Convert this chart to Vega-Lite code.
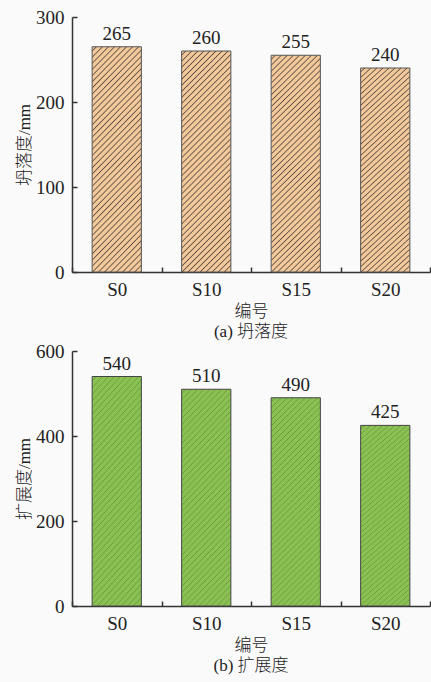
{
  "$schema": "https://vega.github.io/schema/vega-lite/v6.json",
  "background": "#fafafa",
  "padding": {"left": 15, "top": 8, "right": 1, "bottom": 8},
  "spacing": 2,
  "config": {
    "view": {"stroke": null},
    "axis": {
      "grid": false,
      "domainColor": "#333333",
      "domainWidth": 1.5,
      "tickColor": "#333333",
      "tickWidth": 1.5,
      "labelFont": "Liberation Serif",
      "labelFontSize": 19,
      "labelColor": "#222222",
      "titleFont": "Liberation Serif, Noto Sans CJK SC",
      "titleFontSize": 17,
      "titleFontWeight": 300,
      "titleColor": "#222222"
    },
    "title": {"font": "Liberation Serif, Noto Sans CJK SC", "fontSize": 17, "fontWeight": 300, "color": "#222222"}
  },
  "datasets": {
    "slump": [
      {"sample": "S0", "value": 265},
      {"sample": "S10", "value": 260},
      {"sample": "S15", "value": 255},
      {"sample": "S20", "value": 240}
    ],
    "spread": [
      {"sample": "S0", "value": 540},
      {"sample": "S10", "value": 510},
      {"sample": "S15", "value": 490},
      {"sample": "S20", "value": 425}
    ]
  },
  "vconcat": [
    {
      "width": 358,
      "height": 255,
      "title": {"text": "(a) 坍落度", "orient": "bottom", "anchor": "middle", "frame": "group", "offset": 5},
      "data": {"name": "slump"},
      "encoding": {
        "x": {
          "field": "sample", "type": "nominal", "sort": null,
          "scale": {"paddingInner": 0, "paddingOuter": 0},
          "axis": {"title": "编号", "labelAngle": 0, "tickBand": "extent", "tickSize": -5, "labelPadding": 13, "titlePadding": 4}
        },
        "y": {
          "field": "value", "type": "quantitative",
          "scale": {"domain": [0, 300], "nice": false},
          "axis": {"title": "坍落度/mm", "values": [0, 100, 200, 300], "tickSize": -5, "labelPadding": 13, "titlePadding": 2}
        }
      },
      "layer": [
        {
          "mark": {
            "type": "bar",
            "width": {"band": 0.55},
            "stroke": "#555555",
            "strokeWidth": 1,
            "fill": {
              "gradient": "linear", "x1": 0, "y1": 0, "x2": 0.2896, "y2": 1.3,
              "stops": [
                {"offset": 0, "color": "#f3c99b"}, {"offset": 0.01, "color": "#f3c99b"}, {"offset": 0.014, "color": "#5f5046"}, {"offset": 0.018, "color": "#f3c99b"},
                {"offset": 0.02, "color": "#f3c99b"}, {"offset": 0.03, "color": "#f3c99b"}, {"offset": 0.034, "color": "#5f5046"}, {"offset": 0.038, "color": "#f3c99b"},
                {"offset": 0.04, "color": "#f3c99b"}, {"offset": 0.05, "color": "#f3c99b"}, {"offset": 0.054, "color": "#5f5046"}, {"offset": 0.058, "color": "#f3c99b"},
                {"offset": 0.06, "color": "#f3c99b"}, {"offset": 0.07, "color": "#f3c99b"}, {"offset": 0.074, "color": "#5f5046"}, {"offset": 0.078, "color": "#f3c99b"},
                {"offset": 0.08, "color": "#f3c99b"}, {"offset": 0.09, "color": "#f3c99b"}, {"offset": 0.094, "color": "#5f5046"}, {"offset": 0.098, "color": "#f3c99b"},
                {"offset": 0.1, "color": "#f3c99b"}, {"offset": 0.11, "color": "#f3c99b"}, {"offset": 0.114, "color": "#5f5046"}, {"offset": 0.118, "color": "#f3c99b"},
                {"offset": 0.12, "color": "#f3c99b"}, {"offset": 0.13, "color": "#f3c99b"}, {"offset": 0.134, "color": "#5f5046"}, {"offset": 0.138, "color": "#f3c99b"},
                {"offset": 0.14, "color": "#f3c99b"}, {"offset": 0.15, "color": "#f3c99b"}, {"offset": 0.154, "color": "#5f5046"}, {"offset": 0.158, "color": "#f3c99b"},
                {"offset": 0.16, "color": "#f3c99b"}, {"offset": 0.17, "color": "#f3c99b"}, {"offset": 0.174, "color": "#5f5046"}, {"offset": 0.178, "color": "#f3c99b"},
                {"offset": 0.18, "color": "#f3c99b"}, {"offset": 0.19, "color": "#f3c99b"}, {"offset": 0.194, "color": "#5f5046"}, {"offset": 0.198, "color": "#f3c99b"},
                {"offset": 0.2, "color": "#f3c99b"}, {"offset": 0.21, "color": "#f3c99b"}, {"offset": 0.214, "color": "#5f5046"}, {"offset": 0.218, "color": "#f3c99b"},
                {"offset": 0.22, "color": "#f3c99b"}, {"offset": 0.23, "color": "#f3c99b"}, {"offset": 0.234, "color": "#5f5046"}, {"offset": 0.238, "color": "#f3c99b"},
                {"offset": 0.24, "color": "#f3c99b"}, {"offset": 0.25, "color": "#f3c99b"}, {"offset": 0.254, "color": "#5f5046"}, {"offset": 0.258, "color": "#f3c99b"},
                {"offset": 0.26, "color": "#f3c99b"}, {"offset": 0.27, "color": "#f3c99b"}, {"offset": 0.274, "color": "#5f5046"}, {"offset": 0.278, "color": "#f3c99b"},
                {"offset": 0.28, "color": "#f3c99b"}, {"offset": 0.29, "color": "#f3c99b"}, {"offset": 0.294, "color": "#5f5046"}, {"offset": 0.298, "color": "#f3c99b"},
                {"offset": 0.3, "color": "#f3c99b"}, {"offset": 0.31, "color": "#f3c99b"}, {"offset": 0.314, "color": "#5f5046"}, {"offset": 0.318, "color": "#f3c99b"},
                {"offset": 0.32, "color": "#f3c99b"}, {"offset": 0.33, "color": "#f3c99b"}, {"offset": 0.334, "color": "#5f5046"}, {"offset": 0.338, "color": "#f3c99b"},
                {"offset": 0.34, "color": "#f3c99b"}, {"offset": 0.35, "color": "#f3c99b"}, {"offset": 0.354, "color": "#5f5046"}, {"offset": 0.358, "color": "#f3c99b"},
                {"offset": 0.36, "color": "#f3c99b"}, {"offset": 0.37, "color": "#f3c99b"}, {"offset": 0.374, "color": "#5f5046"}, {"offset": 0.378, "color": "#f3c99b"},
                {"offset": 0.38, "color": "#f3c99b"}, {"offset": 0.39, "color": "#f3c99b"}, {"offset": 0.394, "color": "#5f5046"}, {"offset": 0.398, "color": "#f3c99b"},
                {"offset": 0.4, "color": "#f3c99b"}, {"offset": 0.41, "color": "#f3c99b"}, {"offset": 0.414, "color": "#5f5046"}, {"offset": 0.418, "color": "#f3c99b"},
                {"offset": 0.42, "color": "#f3c99b"}, {"offset": 0.43, "color": "#f3c99b"}, {"offset": 0.434, "color": "#5f5046"}, {"offset": 0.438, "color": "#f3c99b"},
                {"offset": 0.44, "color": "#f3c99b"}, {"offset": 0.45, "color": "#f3c99b"}, {"offset": 0.454, "color": "#5f5046"}, {"offset": 0.458, "color": "#f3c99b"},
                {"offset": 0.46, "color": "#f3c99b"}, {"offset": 0.47, "color": "#f3c99b"}, {"offset": 0.474, "color": "#5f5046"}, {"offset": 0.478, "color": "#f3c99b"},
                {"offset": 0.48, "color": "#f3c99b"}, {"offset": 0.49, "color": "#f3c99b"}, {"offset": 0.494, "color": "#5f5046"}, {"offset": 0.498, "color": "#f3c99b"},
                {"offset": 0.5, "color": "#f3c99b"}, {"offset": 0.51, "color": "#f3c99b"}, {"offset": 0.514, "color": "#5f5046"}, {"offset": 0.518, "color": "#f3c99b"},
                {"offset": 0.52, "color": "#f3c99b"}, {"offset": 0.53, "color": "#f3c99b"}, {"offset": 0.534, "color": "#5f5046"}, {"offset": 0.538, "color": "#f3c99b"},
                {"offset": 0.54, "color": "#f3c99b"}, {"offset": 0.55, "color": "#f3c99b"}, {"offset": 0.554, "color": "#5f5046"}, {"offset": 0.558, "color": "#f3c99b"},
                {"offset": 0.56, "color": "#f3c99b"}, {"offset": 0.57, "color": "#f3c99b"}, {"offset": 0.574, "color": "#5f5046"}, {"offset": 0.578, "color": "#f3c99b"},
                {"offset": 0.58, "color": "#f3c99b"}, {"offset": 0.59, "color": "#f3c99b"}, {"offset": 0.594, "color": "#5f5046"}, {"offset": 0.598, "color": "#f3c99b"},
                {"offset": 0.6, "color": "#f3c99b"}, {"offset": 0.61, "color": "#f3c99b"}, {"offset": 0.614, "color": "#5f5046"}, {"offset": 0.618, "color": "#f3c99b"},
                {"offset": 0.62, "color": "#f3c99b"}, {"offset": 0.63, "color": "#f3c99b"}, {"offset": 0.634, "color": "#5f5046"}, {"offset": 0.638, "color": "#f3c99b"},
                {"offset": 0.64, "color": "#f3c99b"}, {"offset": 0.65, "color": "#f3c99b"}, {"offset": 0.654, "color": "#5f5046"}, {"offset": 0.658, "color": "#f3c99b"},
                {"offset": 0.66, "color": "#f3c99b"}, {"offset": 0.67, "color": "#f3c99b"}, {"offset": 0.674, "color": "#5f5046"}, {"offset": 0.678, "color": "#f3c99b"},
                {"offset": 0.68, "color": "#f3c99b"}, {"offset": 0.69, "color": "#f3c99b"}, {"offset": 0.694, "color": "#5f5046"}, {"offset": 0.698, "color": "#f3c99b"},
                {"offset": 0.7, "color": "#f3c99b"}, {"offset": 0.71, "color": "#f3c99b"}, {"offset": 0.714, "color": "#5f5046"}, {"offset": 0.718, "color": "#f3c99b"},
                {"offset": 0.72, "color": "#f3c99b"}, {"offset": 0.73, "color": "#f3c99b"}, {"offset": 0.734, "color": "#5f5046"}, {"offset": 0.738, "color": "#f3c99b"},
                {"offset": 0.74, "color": "#f3c99b"}, {"offset": 0.75, "color": "#f3c99b"}, {"offset": 0.754, "color": "#5f5046"}, {"offset": 0.758, "color": "#f3c99b"},
                {"offset": 0.76, "color": "#f3c99b"}, {"offset": 0.77, "color": "#f3c99b"}, {"offset": 0.774, "color": "#5f5046"}, {"offset": 0.778, "color": "#f3c99b"},
                {"offset": 0.78, "color": "#f3c99b"}, {"offset": 0.79, "color": "#f3c99b"}, {"offset": 0.794, "color": "#5f5046"}, {"offset": 0.798, "color": "#f3c99b"},
                {"offset": 0.8, "color": "#f3c99b"}, {"offset": 0.81, "color": "#f3c99b"}, {"offset": 0.814, "color": "#5f5046"}, {"offset": 0.818, "color": "#f3c99b"},
                {"offset": 0.82, "color": "#f3c99b"}, {"offset": 0.83, "color": "#f3c99b"}, {"offset": 0.834, "color": "#5f5046"}, {"offset": 0.838, "color": "#f3c99b"},
                {"offset": 0.84, "color": "#f3c99b"}, {"offset": 0.85, "color": "#f3c99b"}, {"offset": 0.854, "color": "#5f5046"}, {"offset": 0.858, "color": "#f3c99b"},
                {"offset": 0.86, "color": "#f3c99b"}, {"offset": 0.87, "color": "#f3c99b"}, {"offset": 0.874, "color": "#5f5046"}, {"offset": 0.878, "color": "#f3c99b"},
                {"offset": 0.88, "color": "#f3c99b"}, {"offset": 0.89, "color": "#f3c99b"}, {"offset": 0.894, "color": "#5f5046"}, {"offset": 0.898, "color": "#f3c99b"},
                {"offset": 0.9, "color": "#f3c99b"}, {"offset": 0.91, "color": "#f3c99b"}, {"offset": 0.914, "color": "#5f5046"}, {"offset": 0.918, "color": "#f3c99b"},
                {"offset": 0.92, "color": "#f3c99b"}, {"offset": 0.93, "color": "#f3c99b"}, {"offset": 0.934, "color": "#5f5046"}, {"offset": 0.938, "color": "#f3c99b"}
              ]
            }
          }
        },
        {
          "mark": {"type": "text", "dy": -13, "fontSize": 19, "font": "Liberation Serif", "color": "#222222"},
          "encoding": {"text": {"field": "value", "type": "quantitative"}}
        }
      ]
    },
    {
      "width": 358,
      "height": 255,
      "title": {"text": "(b) 扩展度", "orient": "bottom", "anchor": "middle", "frame": "group", "offset": 5},
      "data": {"name": "spread"},
      "encoding": {
        "x": {
          "field": "sample", "type": "nominal", "sort": null,
          "scale": {"paddingInner": 0, "paddingOuter": 0},
          "axis": {"title": "编号", "labelAngle": 0, "tickBand": "extent", "tickSize": -5, "labelPadding": 13, "titlePadding": 4}
        },
        "y": {
          "field": "value", "type": "quantitative",
          "scale": {"domain": [0, 600], "nice": false},
          "axis": {"title": "扩展度/mm", "values": [0, 200, 400, 600], "tickSize": -5, "labelPadding": 13, "titlePadding": 2}
        }
      },
      "layer": [
        {
          "mark": {
            "type": "bar",
            "width": {"band": 0.55},
            "stroke": "#444444",
            "strokeWidth": 1,
            "fill": {
              "gradient": "linear", "x1": 0, "y1": 0, "x2": 0.3188, "y2": 1.36,
              "stops": [
                {"offset": 0, "color": "#8bc153"}, {"offset": 0.011, "color": "#8bc153"}, {"offset": 0.014, "color": "#6a9a3e"}, {"offset": 0.017, "color": "#8bc153"},
                {"offset": 0.02, "color": "#8bc153"}, {"offset": 0.031, "color": "#8bc153"}, {"offset": 0.034, "color": "#6a9a3e"}, {"offset": 0.037, "color": "#8bc153"},
                {"offset": 0.04, "color": "#8bc153"}, {"offset": 0.051, "color": "#8bc153"}, {"offset": 0.054, "color": "#6a9a3e"}, {"offset": 0.057, "color": "#8bc153"},
                {"offset": 0.06, "color": "#8bc153"}, {"offset": 0.071, "color": "#8bc153"}, {"offset": 0.074, "color": "#6a9a3e"}, {"offset": 0.077, "color": "#8bc153"},
                {"offset": 0.08, "color": "#8bc153"}, {"offset": 0.091, "color": "#8bc153"}, {"offset": 0.094, "color": "#6a9a3e"}, {"offset": 0.097, "color": "#8bc153"},
                {"offset": 0.1, "color": "#8bc153"}, {"offset": 0.111, "color": "#8bc153"}, {"offset": 0.114, "color": "#6a9a3e"}, {"offset": 0.117, "color": "#8bc153"},
                {"offset": 0.12, "color": "#8bc153"}, {"offset": 0.131, "color": "#8bc153"}, {"offset": 0.134, "color": "#6a9a3e"}, {"offset": 0.137, "color": "#8bc153"},
                {"offset": 0.14, "color": "#8bc153"}, {"offset": 0.151, "color": "#8bc153"}, {"offset": 0.154, "color": "#6a9a3e"}, {"offset": 0.157, "color": "#8bc153"},
                {"offset": 0.16, "color": "#8bc153"}, {"offset": 0.171, "color": "#8bc153"}, {"offset": 0.174, "color": "#6a9a3e"}, {"offset": 0.177, "color": "#8bc153"},
                {"offset": 0.18, "color": "#8bc153"}, {"offset": 0.191, "color": "#8bc153"}, {"offset": 0.194, "color": "#6a9a3e"}, {"offset": 0.197, "color": "#8bc153"},
                {"offset": 0.2, "color": "#8bc153"}, {"offset": 0.211, "color": "#8bc153"}, {"offset": 0.214, "color": "#6a9a3e"}, {"offset": 0.217, "color": "#8bc153"},
                {"offset": 0.22, "color": "#8bc153"}, {"offset": 0.231, "color": "#8bc153"}, {"offset": 0.234, "color": "#6a9a3e"}, {"offset": 0.237, "color": "#8bc153"},
                {"offset": 0.24, "color": "#8bc153"}, {"offset": 0.251, "color": "#8bc153"}, {"offset": 0.254, "color": "#6a9a3e"}, {"offset": 0.257, "color": "#8bc153"},
                {"offset": 0.26, "color": "#8bc153"}, {"offset": 0.271, "color": "#8bc153"}, {"offset": 0.274, "color": "#6a9a3e"}, {"offset": 0.277, "color": "#8bc153"},
                {"offset": 0.28, "color": "#8bc153"}, {"offset": 0.291, "color": "#8bc153"}, {"offset": 0.294, "color": "#6a9a3e"}, {"offset": 0.297, "color": "#8bc153"},
                {"offset": 0.3, "color": "#8bc153"}, {"offset": 0.311, "color": "#8bc153"}, {"offset": 0.314, "color": "#6a9a3e"}, {"offset": 0.317, "color": "#8bc153"},
                {"offset": 0.32, "color": "#8bc153"}, {"offset": 0.331, "color": "#8bc153"}, {"offset": 0.334, "color": "#6a9a3e"}, {"offset": 0.337, "color": "#8bc153"},
                {"offset": 0.34, "color": "#8bc153"}, {"offset": 0.351, "color": "#8bc153"}, {"offset": 0.354, "color": "#6a9a3e"}, {"offset": 0.357, "color": "#8bc153"},
                {"offset": 0.36, "color": "#8bc153"}, {"offset": 0.371, "color": "#8bc153"}, {"offset": 0.374, "color": "#6a9a3e"}, {"offset": 0.377, "color": "#8bc153"},
                {"offset": 0.38, "color": "#8bc153"}, {"offset": 0.391, "color": "#8bc153"}, {"offset": 0.394, "color": "#6a9a3e"}, {"offset": 0.397, "color": "#8bc153"},
                {"offset": 0.4, "color": "#8bc153"}, {"offset": 0.411, "color": "#8bc153"}, {"offset": 0.414, "color": "#6a9a3e"}, {"offset": 0.417, "color": "#8bc153"},
                {"offset": 0.42, "color": "#8bc153"}, {"offset": 0.431, "color": "#8bc153"}, {"offset": 0.434, "color": "#6a9a3e"}, {"offset": 0.437, "color": "#8bc153"},
                {"offset": 0.44, "color": "#8bc153"}, {"offset": 0.451, "color": "#8bc153"}, {"offset": 0.454, "color": "#6a9a3e"}, {"offset": 0.457, "color": "#8bc153"},
                {"offset": 0.46, "color": "#8bc153"}, {"offset": 0.471, "color": "#8bc153"}, {"offset": 0.474, "color": "#6a9a3e"}, {"offset": 0.477, "color": "#8bc153"},
                {"offset": 0.48, "color": "#8bc153"}, {"offset": 0.491, "color": "#8bc153"}, {"offset": 0.494, "color": "#6a9a3e"}, {"offset": 0.497, "color": "#8bc153"},
                {"offset": 0.5, "color": "#8bc153"}, {"offset": 0.511, "color": "#8bc153"}, {"offset": 0.514, "color": "#6a9a3e"}, {"offset": 0.517, "color": "#8bc153"},
                {"offset": 0.52, "color": "#8bc153"}, {"offset": 0.531, "color": "#8bc153"}, {"offset": 0.534, "color": "#6a9a3e"}, {"offset": 0.537, "color": "#8bc153"},
                {"offset": 0.54, "color": "#8bc153"}, {"offset": 0.551, "color": "#8bc153"}, {"offset": 0.554, "color": "#6a9a3e"}, {"offset": 0.557, "color": "#8bc153"},
                {"offset": 0.56, "color": "#8bc153"}, {"offset": 0.571, "color": "#8bc153"}, {"offset": 0.574, "color": "#6a9a3e"}, {"offset": 0.577, "color": "#8bc153"},
                {"offset": 0.58, "color": "#8bc153"}, {"offset": 0.591, "color": "#8bc153"}, {"offset": 0.594, "color": "#6a9a3e"}, {"offset": 0.597, "color": "#8bc153"},
                {"offset": 0.6, "color": "#8bc153"}, {"offset": 0.611, "color": "#8bc153"}, {"offset": 0.614, "color": "#6a9a3e"}, {"offset": 0.617, "color": "#8bc153"},
                {"offset": 0.62, "color": "#8bc153"}, {"offset": 0.631, "color": "#8bc153"}, {"offset": 0.634, "color": "#6a9a3e"}, {"offset": 0.637, "color": "#8bc153"},
                {"offset": 0.64, "color": "#8bc153"}, {"offset": 0.651, "color": "#8bc153"}, {"offset": 0.654, "color": "#6a9a3e"}, {"offset": 0.657, "color": "#8bc153"},
                {"offset": 0.66, "color": "#8bc153"}, {"offset": 0.671, "color": "#8bc153"}, {"offset": 0.674, "color": "#6a9a3e"}, {"offset": 0.677, "color": "#8bc153"},
                {"offset": 0.68, "color": "#8bc153"}, {"offset": 0.691, "color": "#8bc153"}, {"offset": 0.694, "color": "#6a9a3e"}, {"offset": 0.697, "color": "#8bc153"},
                {"offset": 0.7, "color": "#8bc153"}, {"offset": 0.711, "color": "#8bc153"}, {"offset": 0.714, "color": "#6a9a3e"}, {"offset": 0.717, "color": "#8bc153"},
                {"offset": 0.72, "color": "#8bc153"}, {"offset": 0.731, "color": "#8bc153"}, {"offset": 0.734, "color": "#6a9a3e"}, {"offset": 0.737, "color": "#8bc153"},
                {"offset": 0.74, "color": "#8bc153"}, {"offset": 0.751, "color": "#8bc153"}, {"offset": 0.754, "color": "#6a9a3e"}, {"offset": 0.757, "color": "#8bc153"},
                {"offset": 0.76, "color": "#8bc153"}, {"offset": 0.771, "color": "#8bc153"}, {"offset": 0.774, "color": "#6a9a3e"}, {"offset": 0.777, "color": "#8bc153"},
                {"offset": 0.78, "color": "#8bc153"}, {"offset": 0.791, "color": "#8bc153"}, {"offset": 0.794, "color": "#6a9a3e"}, {"offset": 0.797, "color": "#8bc153"},
                {"offset": 0.8, "color": "#8bc153"}, {"offset": 0.811, "color": "#8bc153"}, {"offset": 0.814, "color": "#6a9a3e"}, {"offset": 0.817, "color": "#8bc153"},
                {"offset": 0.82, "color": "#8bc153"}, {"offset": 0.831, "color": "#8bc153"}, {"offset": 0.834, "color": "#6a9a3e"}, {"offset": 0.837, "color": "#8bc153"},
                {"offset": 0.84, "color": "#8bc153"}, {"offset": 0.851, "color": "#8bc153"}, {"offset": 0.854, "color": "#6a9a3e"}, {"offset": 0.857, "color": "#8bc153"},
                {"offset": 0.86, "color": "#8bc153"}, {"offset": 0.871, "color": "#8bc153"}, {"offset": 0.874, "color": "#6a9a3e"}, {"offset": 0.877, "color": "#8bc153"},
                {"offset": 0.88, "color": "#8bc153"}, {"offset": 0.891, "color": "#8bc153"}, {"offset": 0.894, "color": "#6a9a3e"}, {"offset": 0.897, "color": "#8bc153"}
              ]
            }
          }
        },
        {
          "mark": {"type": "text", "dy": -13, "fontSize": 19, "font": "Liberation Serif", "color": "#222222"},
          "encoding": {"text": {"field": "value", "type": "quantitative"}}
        }
      ]
    }
  ]
}
